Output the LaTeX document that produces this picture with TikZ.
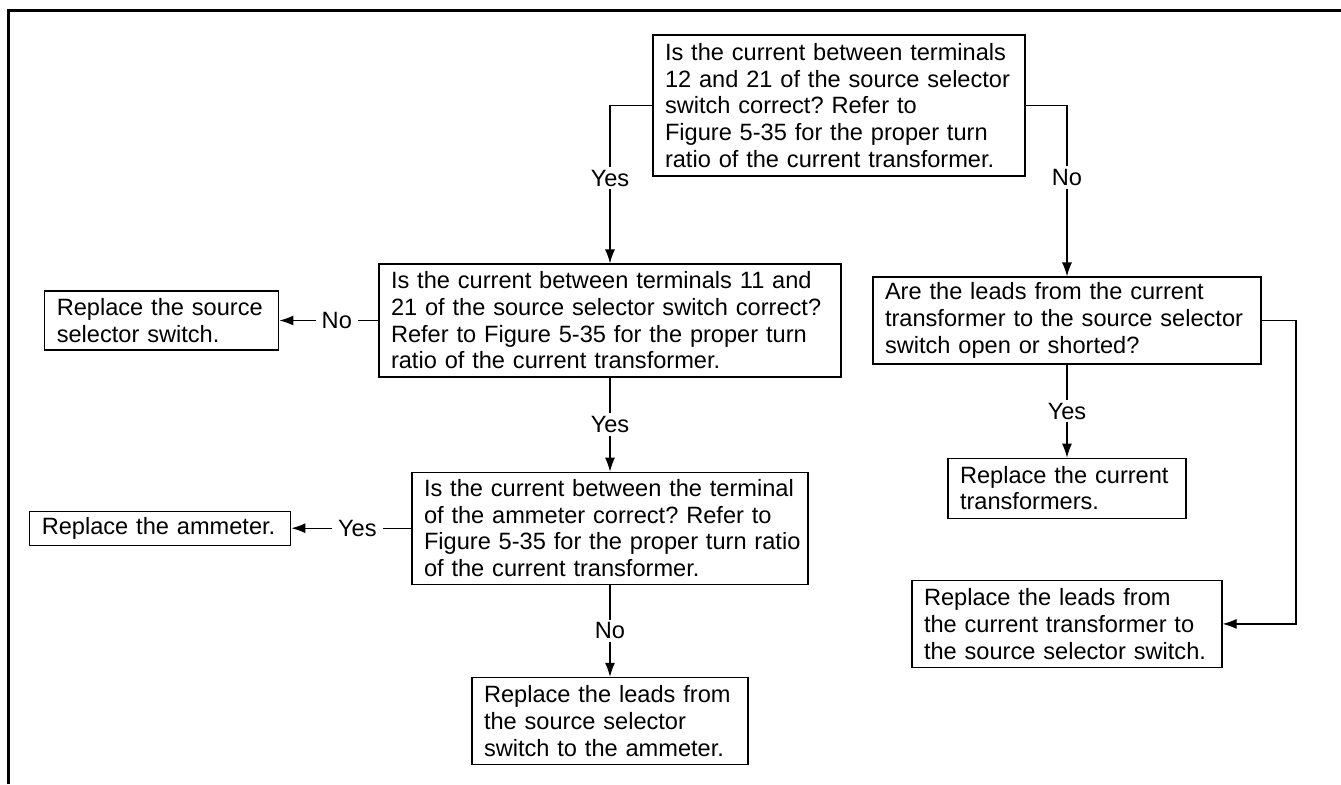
\documentclass[tikz,border=0pt]{standalone}
\usepackage{fontspec}
\setmainfont{Liberation Sans}
\usetikzlibrary{arrows.meta,positioning}
\frenchspacing

\begin{document}
\begin{tikzpicture}[
  x=0.5pt,y=-0.5pt,
  font=\fontsize{11.8pt}{13.35pt}\selectfont,
  query/.style={draw=black,line width=0.6pt,fill=white,inner xsep=6pt,inner ysep=2pt,
                align=left},
  action/.style={query},
  ans/.style={fill=white,inner xsep=3pt,inner ysep=1.5pt},
  arr/.style={-{Latex[length=7pt,width=5pt]},line width=0.6pt},
]
\useasboundingbox (0,0) rectangle (1341,784);
\draw[line width=1.5pt] (8,784) -- (8,10) -- (1341,10);

\node[query,text width=174pt,minimum height=70.5pt] (q1) at (839,105.5)
  {Is the current between terminals\\12 and 21 of the source selector\\switch correct? Refer to\\Figure 5-35 for the proper turn\\ratio of the current transformer.};
\node[query,text width=219pt,minimum height=56.5pt] (q2) at (610,320.5)
  {Is the current between terminals 11 and\\21 of the source selector switch correct?\\Refer to Figure 5-35 for the proper turn\\ratio of the current transformer.};
\node[query,text width=186pt,minimum height=56pt,below=47pt of q2] (q4)
  {Is the current between the terminal\\of the ammeter correct? Refer to\\\mbox{Figure 5-35 for the proper turn ratio}\\of the current transformer.};
\node[query,text width=182pt,minimum height=43.5pt] (q3) at (1067,320.5)
  {Are the leads from the current\\transformer to the source selector\\switch open or shorted?};

\node[action,text width=105pt,minimum height=29.5pt,left=49.5pt of q2] (r1)
  {Replace the source\\selector switch.};
\node[action,text width=118.5pt,minimum height=17pt,left=60pt of q4] (r2)
  {Replace the ammeter.};
\node[action,text width=126pt,minimum height=43.5pt,below=46pt of q4] (r4)
  {Replace the leads from\\the source selector\\switch to the ammeter.};
\node[action,text width=107pt,minimum height=30pt,below=46.5pt of q3] (r3)
  {Replace the current\\transformers.};
\node[action,text width=143pt,minimum height=43.5pt,below=30.5pt of r3] (r5)
  {Replace the leads from\\the current transformer to\\the source selector switch.};

\coordinate (rside) at (1296,322);

\draw[arr] (q1.west) -| node[ans,pos=0.73] {Yes} (q2.north);
\draw[arr] (q1.east) -| node[ans,pos=0.71] {No} (q3.north);
\draw[arr] (q2.west) -- node[ans,pos=0.42] {No} (r1.east);
\draw[arr] (q2.south) -- node[ans] {Yes} (q4.north);
\draw[arr] (q4.west) -- node[ans,pos=0.45] {Yes} (r2.east);
\draw[arr] (q4.south) -- node[ans] {No} (r4.north);
\draw[arr] (q3.south) -- node[ans] {Yes} (r3.north);
\draw[arr] (q3.east) -- (q3.east -| rside) |- (r5.east);

\end{tikzpicture}
\end{document}
